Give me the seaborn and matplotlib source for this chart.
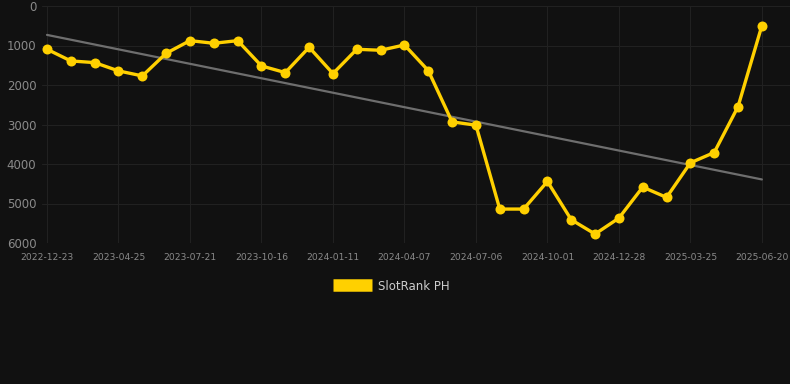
import numpy as np
import pandas as pd
import matplotlib
matplotlib.use('Agg')
import matplotlib.pyplot as plt
import seaborn as sns

# monthly rank values (lower = better)
ranks = [1095, 1391, 1433, 1643, 1770, 1197, 877, 944, 877, 1517,
         1686, 1045, 1711, 1095, 1121, 986, 1635, 2933, 3017, 5141,
         5141, 4442, 5411, 5773, 5369, 4585, 4846, 3970, 3709, 2546, 497]
tick_labels = ['2022-12-23', '2023-04-25', '2023-07-21', '2023-10-16',
               '2024-01-11', '2024-04-07', '2024-07-06', '2024-10-01',
               '2024-12-28', '2025-03-25', '2025-06-20']
y_ticks = [0, 1000, 2000, 3000, 4000, 5000, 6000]
series_name = 'SlotRank PH'

df = pd.DataFrame({'idx': np.arange(len(ranks)), 'rank': ranks})

bg = '#111111'
sns.set_theme(style='dark')
plt.rcParams['font.family'] = ['DejaVu Sans']

fig = plt.figure(figsize=(7.9, 3.84), dpi=100, facecolor=bg)
ax = fig.add_axes([42 / 790, 1 - 243 / 384, 1 - 42 / 790, (243 - 6) / 384])
ax.set_facecolor(bg)

# trend line
sns.regplot(data=df, x='idx', y='rank', scatter=False, ci=None, truncate=True,
            line_kws={'color': '#6e6e6e', 'linewidth': 1.6, 'zorder': 2}, ax=ax)

sns.lineplot(data=df, x='idx', y='rank', color='#FFD000', linewidth=2.4,
             marker='o', markersize=7.2, markeredgewidth=0, label=series_name,
             ax=ax, zorder=3)

ax.set_ylim(6000, 0)
ax.set_xlim(-0.21, 31.18)
ax.set_yticks(y_ticks)
ax.set_xticks(np.arange(0, len(ranks), 3))
ax.set_xticklabels(tick_labels)
ax.grid(True, color='#212121', linewidth=0.8)
ax.tick_params(axis='y', colors='#8a8a8a', labelsize=8.5, length=0, pad=4)
ax.tick_params(axis='x', colors='#8a8a8a', labelsize=6.6, length=5, color='#212121', pad=2)
ax.set_xlabel('')
ax.set_ylabel('')
for s in ax.spines.values():
    s.set_visible(False)

leg = ax.legend(loc='upper center', bbox_to_anchor=(0.467, -0.11), frameon=False,
                handlelength=3.3, handleheight=1.0, handletextpad=0.5,
                fontsize=8.5, labelcolor='#cccccc')
for h in leg.legend_handles:
    h.set_marker('')
    h.set_linewidth(9)
    h.set_solid_capstyle('butt')

fig.savefig('out.png', dpi=100, facecolor=bg)
